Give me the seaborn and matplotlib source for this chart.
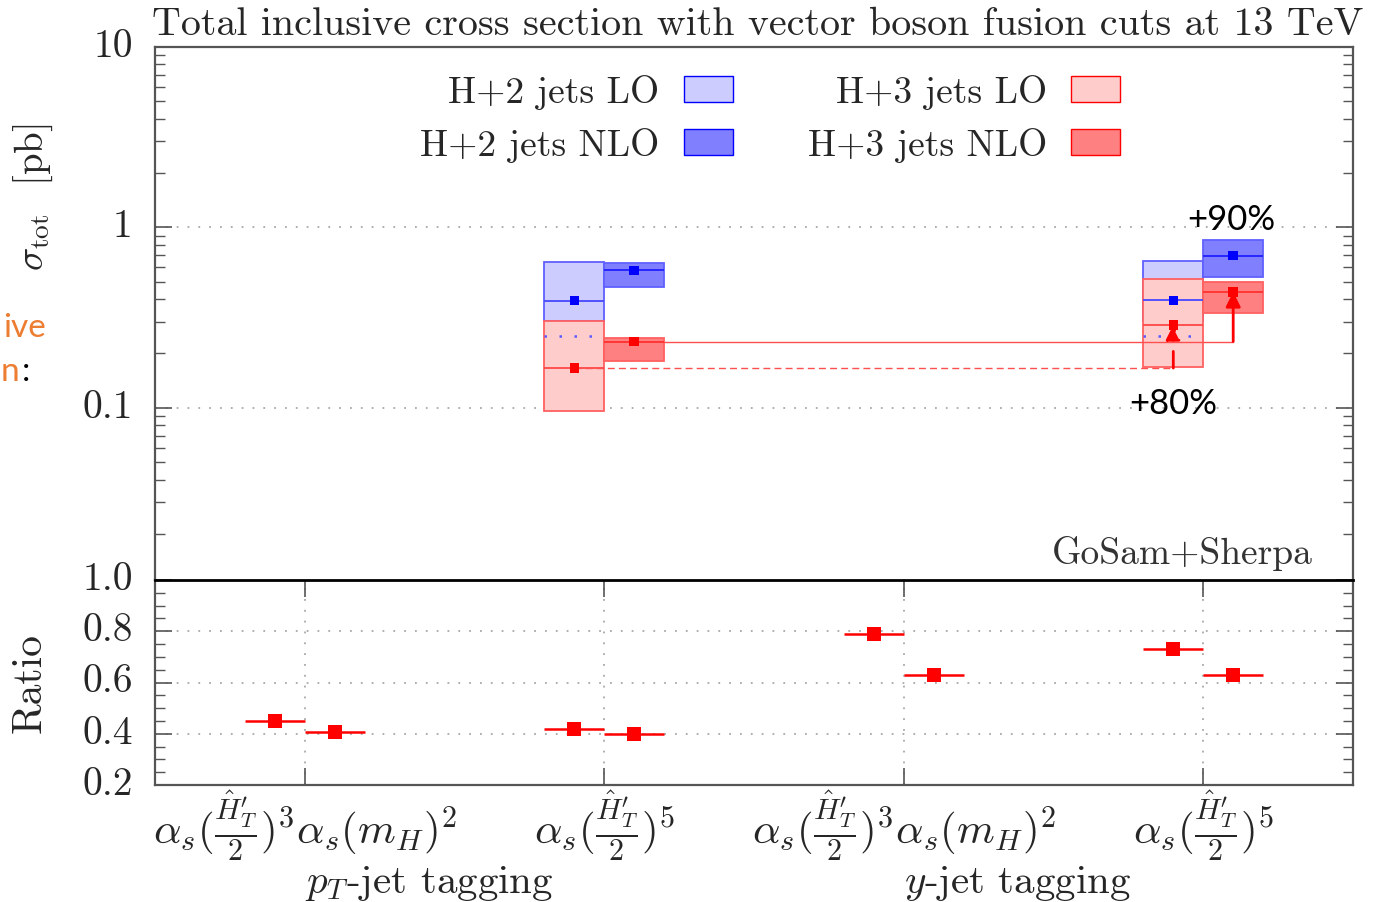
import numpy as np
import pandas as pd
import matplotlib
matplotlib.use("Agg")
import matplotlib.pyplot as plt
import matplotlib.transforms as mtransforms
import seaborn as sns
from matplotlib.patches import Patch
from matplotlib.ticker import FixedLocator, FixedFormatter, NullFormatter

# ---------------------------------------------------------------- data
scale_labels = [
    r"$\alpha_s(\frac{\hat{H}_T^{\prime}}{2})^3\alpha_s(m_H)^2$",
    r"$\alpha_s(\frac{\hat{H}_T^{\prime}}{2})^5$",
    r"$\alpha_s(\frac{\hat{H}_T^{\prime}}{2})^3\alpha_s(m_H)^2$",
    r"$\alpha_s(\frac{\hat{H}_T^{\prime}}{2})^5$",
]
tagging_labels = [r"$p_T$-jet tagging", r"$y$-jet tagging"]
tagging_start = [0, 2]          # first scale slot of each tagging group

# total cross sections [pb] shown for the alpha_s(H'_T/2)^5 scale slots
xs_slots = [1, 3]
h2_lo_central = [0.393, 0.394]
h2_lo_low = [0.302, 0.302]
h2_lo_high = [0.645, 0.650]
h2_nlo_central = [0.577, 0.697]
h2_nlo_low = [0.466, 0.532]
h2_nlo_high = [0.637, 0.850]
h3_lo_central = [0.166, 0.288]
h3_lo_low = [0.096, 0.168]
h3_lo_high = [0.302, 0.519]
h3_nlo_central = [0.233, 0.439]
h3_nlo_low = [0.181, 0.336]
h3_nlo_high = [0.243, 0.497]
h2_lo_reference = 0.25

# H+3 jets / H+2 jets ratios for all four slots
ratio_lo = [0.449, 0.418, 0.789, 0.731]
ratio_nlo = [0.406, 0.399, 0.629, 0.628]

increase_labels = ["+80%", "+90%"]

# ---------------------------------------------------------------- style
sns.set_theme(style="ticks")
plt.rcParams["font.family"] = ["cmr10", "DejaVu Serif"]
plt.rcParams["mathtext.fontset"] = "cm"
plt.rcParams["axes.unicode_minus"] = False
plt.rcParams["axes.formatter.use_mathtext"] = True

W, H = 1377, 903
fig = plt.figure(figsize=(W / 100, H / 100), dpi=100)
ax = fig.add_axes([155 / W, 1 - 581 / H, 1198 / W, 533 / H])
axr = fig.add_axes([155 / W, 1 - 786 / H, 1198 / W, 205 / H])

BLUE, RED = "#0000ff", "#ff0000"
LO_BLUE, NLO_BLUE = "#ccccff", "#8080ff"
LO_RED, NLO_RED = "#ffcccc", "#ff8080"
EDGE_BLUE, EDGE_RED = "#6060ff", "#ff6060"
FRAME = "#555555"
TEXT = "#262626"
GRID = dict(color="#a8a8a8", linestyle=(0, (1, 5)), linewidth=1.3)
BIN = 0.2
TICK_FS = 28.5

tick_pos = np.arange(len(scale_labels)) + 0.5
slot_x = tick_pos[xs_slots]

# ---------------------------------------------------------------- main panel
ax.set_yscale("log")
ax.set_xlim(0, len(scale_labels))
ax.set_ylim(0.0111, 10)


def band(x_left, low, high, fill, edge, z):
    ax.bar(x_left, np.array(high) - np.array(low), bottom=low, width=BIN,
           align="edge", color=fill, edgecolor=edge, linewidth=1.3, zorder=z)


band(slot_x - BIN, h2_lo_low, h2_lo_high, LO_BLUE, EDGE_BLUE, 2)
band(slot_x - BIN, h3_lo_low, h3_lo_high, LO_RED, EDGE_RED, 3)
band(slot_x, h2_nlo_low, h2_nlo_high, NLO_BLUE, EDGE_BLUE, 2)
band(slot_x, h3_nlo_low, h3_nlo_high, NLO_RED, EDGE_RED, 3)

ax.hlines(h2_lo_central, slot_x - BIN, slot_x, color="#4848ff", lw=1.3, zorder=4)
ax.hlines(h2_nlo_central, slot_x, slot_x + BIN, color="#2020ff", lw=1.3, zorder=4)
ax.hlines(h3_lo_central, slot_x - BIN, slot_x, color="#ff4848", lw=1.3, zorder=4)
ax.hlines(h3_nlo_central, slot_x, slot_x + BIN, color="#ff3030", lw=1.3, zorder=4)
ax.hlines([h2_lo_reference] * len(slot_x), slot_x - BIN, slot_x - 0.02,
          color="#5a5aff", lw=1.8, linestyles=[(0, (1, 5))], zorder=4)

# guide lines carrying the pT-tagging H+3 jets values to the y-tagging slot
ax.plot([slot_x[0] - BIN / 2, slot_x[1] - BIN / 2], [h3_lo_central[0]] * 2,
        color="#ff5050", lw=1.0, ls=(0, (5, 3)), zorder=4)
ax.plot([slot_x[0] + BIN, slot_x[1] + BIN / 2], [h3_nlo_central[0]] * 2,
        color="#ff5050", lw=1.0, zorder=4)

# increase arrows
ax.annotate("", xy=(slot_x[1] - BIN / 2, h3_lo_central[1]),
            xytext=(slot_x[1] - BIN / 2, h3_lo_central[0]),
            arrowprops=dict(arrowstyle="-|>", color=RED, lw=2.0, ls=(0, (6, 4)),
                            mutation_scale=22, shrinkA=0, shrinkB=0), zorder=6)
ax.annotate("", xy=(slot_x[1] + BIN / 2, h3_nlo_central[1]),
            xytext=(slot_x[1] + BIN / 2, h3_nlo_central[0]),
            arrowprops=dict(arrowstyle="-|>", color=RED, lw=2.0,
                            mutation_scale=22, shrinkA=0, shrinkB=0), zorder=6)

marks = pd.DataFrame({
    "x": np.concatenate([slot_x - BIN / 2, slot_x + BIN / 2,
                         slot_x - BIN / 2, slot_x + BIN / 2]),
    "xs": h2_lo_central + h2_nlo_central + h3_lo_central + h3_nlo_central,
    "process": ["H+2"] * 4 + ["H+3"] * 4,
})
sns.scatterplot(data=marks, x="x", y="xs", hue="process",
                palette={"H+2": BLUE, "H+3": RED}, marker="s", s=46,
                linewidth=0, legend=False, ax=ax, zorder=7)

ax.annotate(increase_labels[1], xy=(slot_x[1] + BIN / 2, 1.0), xytext=(-2, 8),
            textcoords="offset pixels", family="Lato", fontsize=25,
            ha="center", va="center", color="black")
ax.annotate(increase_labels[0], xy=(slot_x[1] - BIN / 2, 0.1), xytext=(0, 5),
            textcoords="offset pixels", family="Lato", fontsize=25,
            ha="center", va="center", color="black")

ax.yaxis.set_major_locator(FixedLocator([0.1, 1, 10]))
ax.yaxis.set_major_formatter(FixedFormatter(["0.1", "1", "10"]))
minor = [m * d for d in (0.01, 0.1, 1) for m in range(2, 10)]
ax.yaxis.set_minor_locator(FixedLocator(minor))
ax.yaxis.set_minor_formatter(NullFormatter())
ax.tick_params(axis="y", which="major", direction="in", length=12, width=1.2,
               left=True, right=True, labelsize=TICK_FS, pad=16, color=FRAME,
               labelcolor=TEXT)
ax.tick_params(axis="y", which="minor", direction="in", length=7, width=1.0,
               left=True, right=True, color=FRAME)
ax.tick_params(axis="x", which="both", bottom=False, top=False,
               labelbottom=False)
ax.grid(axis="y", which="major", **GRID)
ax.set_xlabel("")
ax.set_ylabel("")
for side in ("left", "right", "top"):
    ax.spines[side].set_color(FRAME)
    ax.spines[side].set_linewidth(1.6)
ax.spines["bottom"].set_visible(False)

ax.text(0.9666, 0.052, "GoSam+Sherpa", transform=ax.transAxes, fontsize=27,
        ha="right", va="center", color="#333333")

legend_handles = [
    Patch(facecolor=LO_BLUE, edgecolor=BLUE, linewidth=1.0, label="H+2 jets LO"),
    Patch(facecolor=NLO_BLUE, edgecolor=BLUE, linewidth=1.0, label="H+2 jets NLO"),
    Patch(facecolor=LO_RED, edgecolor=RED, linewidth=1.0, label="H+3 jets LO"),
    Patch(facecolor=NLO_RED, edgecolor=RED, linewidth=1.0, label="H+3 jets NLO"),
]
ax.legend(handles=legend_handles, ncol=2, markerfirst=False, frameon=False,
          fontsize=27, handlelength=1.31, handleheight=0.69, handletextpad=0.64,
          columnspacing=2.0, labelspacing=0.48, borderpad=0, borderaxespad=0,
          loc="upper right", bbox_to_anchor=((1120 - 155) / 1198, (581 - 75) / 533),
          labelcolor=TEXT)

# ---------------------------------------------------------------- ratio panel
axr.set_xlim(0, len(scale_labels))
axr.set_ylim(0.2, 1.0)
rat = pd.DataFrame({
    "x": np.concatenate([tick_pos - BIN / 2, tick_pos + BIN / 2]),
    "ratio": ratio_lo + ratio_nlo,
})
axr.hlines(rat["ratio"], rat["x"] - BIN / 2, rat["x"] + BIN / 2,
           color=RED, lw=1.8, zorder=4)
sns.scatterplot(data=rat, x="x", y="ratio", marker="s", s=95, color=RED,
                linewidth=0, ax=axr, zorder=5)

axr.xaxis.set_major_locator(FixedLocator(tick_pos))
axr.xaxis.set_major_formatter(FixedFormatter(scale_labels))
axr.yaxis.set_major_locator(FixedLocator([0.2, 0.4, 0.6, 0.8, 1.0]))
axr.yaxis.set_major_formatter(FixedFormatter(["0.2", "0.4", "0.6", "0.8", "1.0"]))
axr.yaxis.set_minor_locator(FixedLocator(np.arange(0.25, 1.0, 0.05)))
axr.yaxis.set_minor_formatter(NullFormatter())
axr.tick_params(axis="y", which="major", direction="in", length=12, width=1.2,
                left=True, right=True, labelsize=TICK_FS, pad=16, color=FRAME,
                labelcolor=TEXT)
axr.tick_params(axis="y", which="minor", direction="in", length=7, width=1.0,
                left=True, right=True, color=FRAME)
axr.tick_params(axis="x", which="major", direction="in", length=12, width=1.2,
                top=True, bottom=True, labelsize=31, pad=2, color=FRAME,
                labelcolor=TEXT)
axr.grid(axis="both", which="major", **GRID)
axr.set_xlabel("")
axr.set_ylabel("")
for side in ("left", "right", "bottom"):
    axr.spines[side].set_color(FRAME)
    axr.spines[side].set_linewidth(1.6)
axr.spines["top"].set_color("black")
axr.spines["top"].set_linewidth(2.0)

# y tick labels sit a few pixels above their ticks
lift = mtransforms.ScaledTranslation(0, 5 / 100, fig.dpi_scale_trans)
for a in (ax, axr):
    for lab in a.get_yticklabels():
        lab.set_transform(lab.get_transform() + lift)

for start, name in zip(tagging_start, tagging_labels):
    axr.text(tick_pos[start], -0.475, name, transform=axr.get_xaxis_transform(),
             fontsize=29.5, ha="left", va="center", color=TEXT)

# ---------------------------------------------------------------- figure texts
fig.text(758 / W, 1 - 25 / H,
         "Total inclusive cross section with vector boson fusion cuts at 13 TeV",
         fontsize=28.8, ha="center", va="center", color=TEXT)
fig.text(33 / W, 1 - 197 / H, r"$\sigma_{\rm tot}$  [pb]", rotation=90,
         fontsize=28, ha="center", va="center", color=TEXT)
fig.text(30 / W, 1 - 683 / H, "Ratio", rotation=90,
         fontsize=30, ha="center", va="center", color=TEXT)

# slide text beside the chart
fig.text(3 / W, 1 - 328 / H, "ive", family="Lato", fontsize=24,
         ha="left", va="center", color="#ed7d31")
fig.text(1 / W, 1 - 372 / H, "n", family="Lato", fontsize=24,
         ha="left", va="center", color="#ed7d31")
fig.text(22 / W, 1 - 372 / H, ":", family="Lato", fontsize=24,
         ha="left", va="center", color="black")

fig.savefig("out.png", dpi=100)
